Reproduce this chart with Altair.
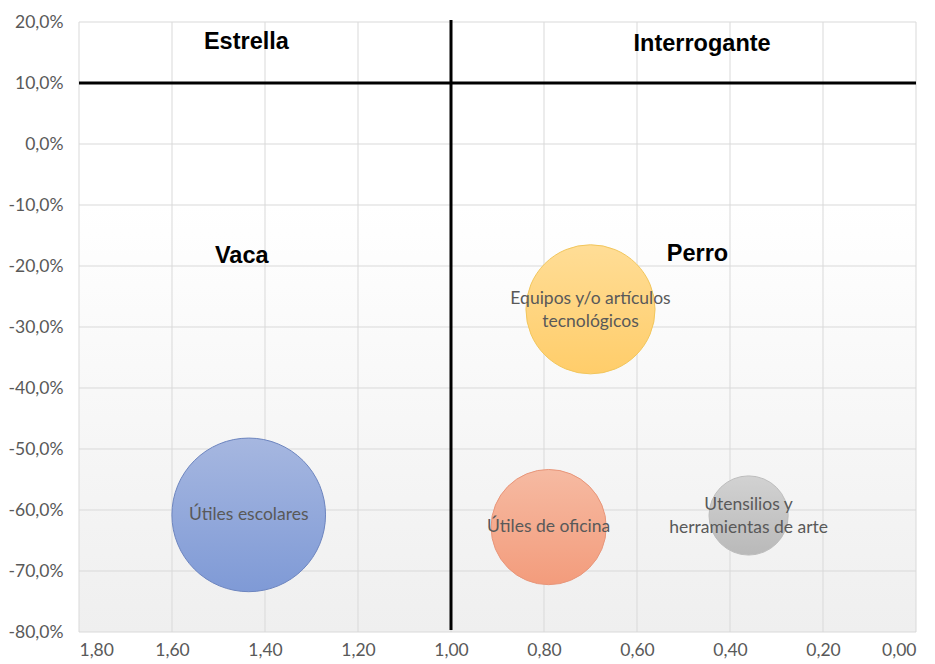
import altair as alt
import pandas as pd

# Portfolio items: relative market share (x), market growth (y) and bubble size
categorias = [
    "Útiles escolares",
    "Útiles de oficina",
    "Utensilios y\nherramientas de arte",
    "Equipos y/o artículos\ntecnológicos",
]
participacion_relativa = [1.435, 0.79, 0.36, 0.70]
crecimiento = [-0.608, -0.628, -0.609, -0.271]
tamano = [39.5, 22.2, 10.5, 27.9]
color_arriba = ["#a6b7e0", "#f6baa2", "#d2d2d2", "#ffdd96"]
color_abajo = ["#7f9ad6", "#f39c7c", "#b9b9b9", "#ffcd6a"]
color_borde = ["#6d85bf", "#e8967a", "#bdbdbd", "#f2c65c"]

# Quadrant names of the growth-share matrix
cuadrantes = ["Estrella", "Interrogante", "Vaca", "Perro"]
cuad_x = [1.44, 0.46, 1.45, 0.47]
cuad_y = [0.167, 0.164, -0.183, -0.180]

# Dividing lines
corte_x = 1.00
corte_y = 0.10

x_ticks = [1.8, 1.6, 1.4, 1.2, 1.0, 0.8, 0.6, 0.4, 0.2, 0.0]
y_ticks = [0.2, 0.1, 0.0, -0.1, -0.2, -0.3, -0.4, -0.5, -0.6, -0.7, -0.8]

W, H = 837, 610

df = pd.DataFrame({
    "categoria": categorias,
    "x": participacion_relativa,
    "y": crecimiento,
    "tam": tamano,
})
df_cuad = pd.DataFrame({"nombre": cuadrantes, "x": cuad_x, "y": cuad_y})

label_font = "Lato"
gray_text = "#595959"
grid_color = "#d9d9d9"

x_scale = alt.Scale(domain=[0, 1.8], reverse=True, nice=False, zero=False)
y_scale = alt.Scale(domain=[-0.8, 0.2], nice=False, zero=False)
# symbol size is the area of the bounding square (diameter squared)
size_scale = alt.Scale(domain=[0, max(tamano)], range=[0, 23600], zero=True)

x_axis = alt.Axis(
    values=x_ticks, title=None, ticks=False, domain=False, grid=False,
    labelFont=label_font, labelFontSize=17.5,
    labelColor=gray_text, labelPadding=9,
    labelExpr="replace(format(datum.value, '.2f'), '.', ',')",
)
y_axis = alt.Axis(
    values=y_ticks, title=None, ticks=False, domain=False, grid=False,
    labelFont=label_font, labelFontSize=17.5,
    labelColor=gray_text, labelPadding=16,
    labelExpr="replace(replace(format(datum.value, '.1%'), '.', ','), '−', '-')",
)

base = alt.Chart(df)

# Plot-area background: white fading to light gray at the bottom
fondo = alt.LinearGradient(
    gradient="linear",
    stops=[
        alt.GradientStop(color="#ffffff", offset=0),
        alt.GradientStop(color="#ffffff", offset=0.3),
        alt.GradientStop(color="#efefef", offset=1),
    ],
    x1=0, x2=0, y1=0, y2=1,
)
background = alt.Chart(alt.Data(values=[{}])).mark_rect(fill=fondo).encode(
    x=alt.value(0), x2=alt.value(W), y=alt.value(0), y2=alt.value(H)
)

layers = [background]

# Gridlines
grid_x = alt.Chart(pd.DataFrame({"v": x_ticks})).mark_rule(
    color=grid_color, strokeWidth=1
).encode(x=alt.X("v:Q", scale=x_scale, axis=x_axis))
grid_y = alt.Chart(pd.DataFrame({"v": y_ticks})).mark_rule(
    color=grid_color, strokeWidth=1
).encode(y=alt.Y("v:Q", scale=y_scale, axis=y_axis))
layers += [grid_x, grid_y]

# One bubble per item, each with its own vertical gradient
for i, cat in enumerate(categorias):
    grad = alt.LinearGradient(
        gradient="linear",
        stops=[
            alt.GradientStop(color=color_arriba[i], offset=0),
            alt.GradientStop(color=color_abajo[i], offset=1),
        ],
        x1=0, x2=0, y1=0, y2=1,
    )
    bubble = base.transform_filter(
        alt.datum.categoria == cat
    ).mark_circle(
        fill=grad, stroke=color_borde[i], strokeWidth=1, opacity=1, fillOpacity=1
    ).encode(
        x=alt.X("x:Q", scale=x_scale),
        y=alt.Y("y:Q", scale=y_scale),
        size=alt.Size("tam:Q", scale=size_scale, legend=None),
    )
    layers.append(bubble)

# Dividing lines of the matrix
vline = alt.Chart(pd.DataFrame({"v": [corte_x]})).mark_rule(
    color="black", strokeWidth=3
).encode(
    x=alt.X("v:Q", scale=x_scale),
    y=alt.value(-2),
    y2=alt.value(H - 2),
)
hline = alt.Chart(pd.DataFrame({"v": [corte_y]})).mark_rule(
    color="black", strokeWidth=3
).encode(
    y=alt.Y("v:Q", scale=y_scale),
    x=alt.value(0),
    x2=alt.value(W),
)
layers += [vline, hline]

# Bubble labels (two-line labels are shifted up so the block stays centred)
text_style = dict(
    font=label_font, fontSize=17.5, color=gray_text, align="center",
    baseline="middle", lineBreak="\n", lineHeight=23,
)
for multilinea, desplaz in [(False, 0), (True, -10)]:
    cond = "indexof(datum.categoria, '\\n') >= 0"
    filtro = cond if multilinea else "!(" + cond + ")"
    etiquetas = base.transform_filter(filtro).mark_text(
        dy=desplaz, **text_style
    ).encode(
        x=alt.X("x:Q", scale=x_scale),
        y=alt.Y("y:Q", scale=y_scale),
        text="categoria:N",
    )
    layers.append(etiquetas)

# Quadrant names
nombres = alt.Chart(df_cuad).mark_text(
    font="Liberation Sans", fontSize=23.5, fontWeight="bold", color="black",
    align="center", baseline="middle",
).encode(
    x=alt.X("x:Q", scale=x_scale),
    y=alt.Y("y:Q", scale=y_scale),
    text="nombre:N",
)
layers.append(nombres)

chart = alt.layer(*layers).properties(
    width=W,
    height=H,
    autosize=alt.AutoSizeParams(type="none"),
    padding={"left": 79, "top": 22, "right": 19, "bottom": 32},
    background="white",
).configure_view(
    strokeWidth=0,
)

chart.save("out.html", embed_options={"renderer": "svg", "actions": False})
